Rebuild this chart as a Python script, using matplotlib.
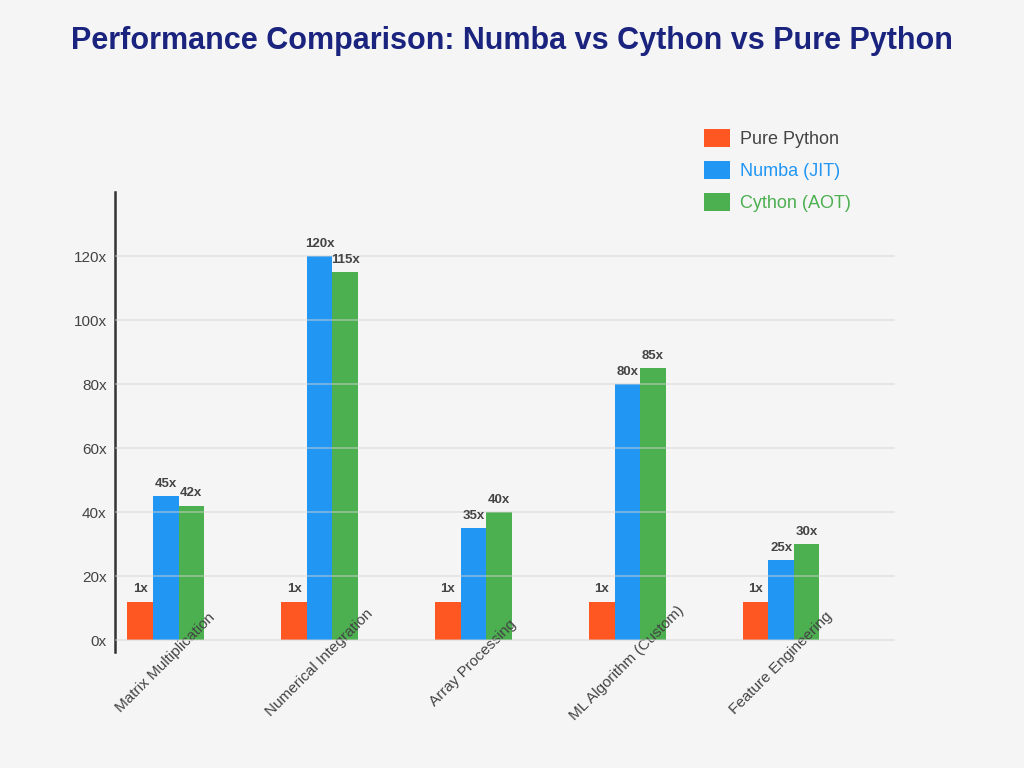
import numpy as np
import matplotlib.pyplot as plt

plt.rcParams['font.family'] = ['Liberation Sans', 'DejaVu Sans']

categories = ['Matrix Multiplication', 'Numerical Integration', 'Array Processing',
              'ML Algorithm (Custom)', 'Feature Engineering']
series_names = ['Pure Python', 'Numba (JIT)', 'Cython (AOT)']
pure_python = [1, 1, 1, 1, 1]
numba_jit = [45, 120, 35, 80, 25]
cython_aot = [42, 115, 40, 85, 30]
yticks = [0, 20, 40, 60, 80, 100, 120]

colors = ['#FF5722', '#2196F3', '#4CAF50']
legend_text_colors = ['#444444', '#2196F3', '#4CAF50']
min_bar = 12  # small values are drawn with a minimum visible height

fig = plt.figure(figsize=(10.24, 7.68), dpi=100, facecolor='#f5f5f5')
ax = fig.add_axes([115 / 1024, 1 - 652 / 768, 780 / 1024, (652 - 192) / 768])
ax.set_facecolor('#f5f5f5')

x = np.arange(len(categories))
width = 0.166
all_series = [pure_python, numba_jit, cython_aot]
handles = []
for i, (vals, col) in enumerate(zip(all_series, colors)):
    pos = x + (i - 1) * width
    shown = [max(v, min_bar) for v in vals]
    b = ax.bar(pos, shown, width, color=col, zorder=2, label=series_names[i])
    handles.append(b)
    for p, h, v in zip(pos, shown, vals):
        ax.text(p, h + 2.0, '%dx' % v, ha='center', va='bottom', fontsize=9.5,
                fontweight='bold', color='#444444', zorder=4)

ax.set_xlim(-0.33, 4.74)
ax.set_ylim(-3.75, 140)
ax.set_yticks(yticks)
ax.set_yticklabels(['%dx' % t for t in yticks], fontsize=11, color='#444444')
ax.yaxis.grid(True, color='#d3d3d3', alpha=0.55, linewidth=1.2, zorder=3)
ax.set_axisbelow(False)
ax.tick_params(axis='y', length=0, pad=6)
ax.set_xticks(x)
ax.set_xticklabels(categories, rotation=45, ha='center', va='center',
                   rotation_mode='anchor', fontsize=11, color='#444444')
ax.tick_params(axis='x', length=0, pad=8)
for s in ['top', 'right', 'bottom']:
    ax.spines[s].set_visible(False)
ax.spines['left'].set_color('#333333')
ax.spines['left'].set_linewidth(1.8)

leg = fig.legend(handles=handles, labels=series_names, loc='upper left',
                 bbox_to_anchor=(688 / 1024, 1 - 113 / 768), frameon=False,
                 fontsize=13, handlelength=1.45, handleheight=1.15, labelspacing=0.7,
                 handletextpad=0.55)
for t, c in zip(leg.get_texts(), legend_text_colors):
    t.set_color(c)

fig.text(0.5, 1 - 41 / 768, 'Performance Comparison: Numba vs Cython vs Pure Python',
         ha='center', va='center', fontsize=22, fontweight='bold', color='#1a237e')

fig.savefig('out.png', dpi=100, facecolor=fig.get_facecolor())
